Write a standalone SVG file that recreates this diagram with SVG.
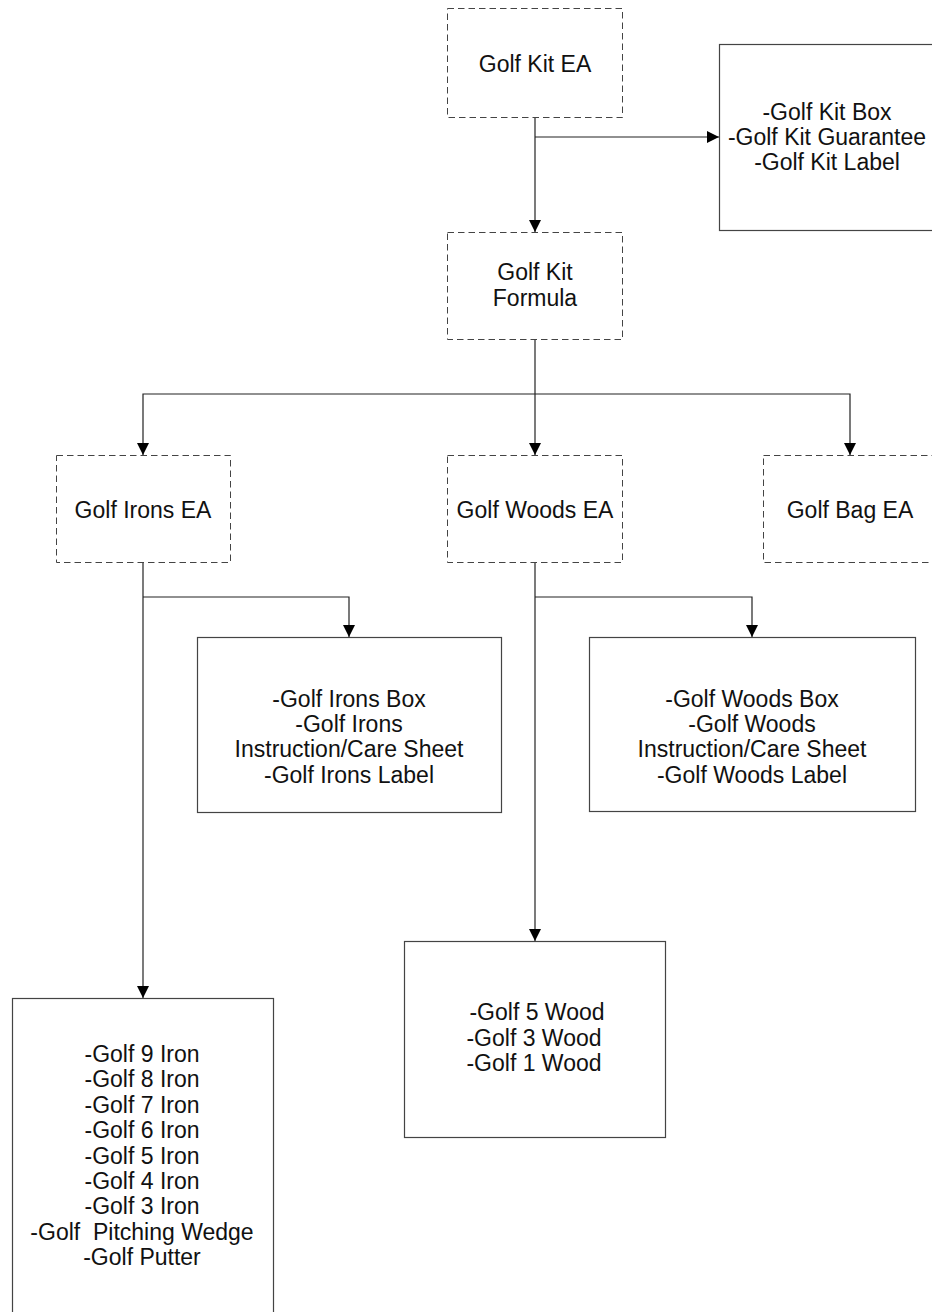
<svg xmlns="http://www.w3.org/2000/svg" width="932" height="1312" viewBox="0 0 932 1312">
  <defs>
    <marker id="arrow" viewBox="0 0 12 12" refX="12" refY="6" markerWidth="12" markerHeight="12" markerUnits="userSpaceOnUse" orient="auto">
      <path d="M0,0 L12,6 L0,12 Z" fill="#000"/>
    </marker>
    <style>
      .ea { fill: #fff; stroke: #444; stroke-width: 1; stroke-dasharray: 6.5 4; }
      .box { fill: #fff; stroke: #444; stroke-width: 1.2; }
      .lbl { font-family: "Liberation Sans", Arial, sans-serif; font-size: 23px; fill: #111; text-anchor: middle; }
      .wire { fill: none; stroke: #222; stroke-width: 1.2; }
      .tip { marker-end: url(#arrow); }
    </style>
  </defs>
  <rect width="932" height="1312" fill="#fff"/>

  <!-- connectors -->
  <g id="connectors">
    <path class="wire tip" d="M535,117 V232"/>
    <path class="wire tip" d="M535,137 H719"/>
    <path class="wire" d="M535,339 V394"/>
    <path class="wire tip" d="M535,394 V455"/>
    <path class="wire tip" d="M535,394 H143 V455"/>
    <path class="wire tip" d="M535,394 H850 V455"/>
    <path class="wire tip" d="M143,562 V998"/>
    <path class="wire tip" d="M143,597 H349 V637"/>
    <path class="wire tip" d="M535,562 V941"/>
    <path class="wire tip" d="M535,597 H752 V637"/>
  </g>

  <g id="golf-kit-ea">
    <rect class="ea" x="447.5" y="8.5" width="175" height="109"/>
    <text class="lbl" x="535" y="72">Golf Kit EA</text>
  </g>

  <g id="golf-kit-items">
    <rect class="box" x="719.5" y="44.5" width="220" height="186"/>
    <text class="lbl" x="827" y="120">-Golf Kit Box</text>
    <text class="lbl" x="827" y="145">-Golf Kit Guarantee</text>
    <text class="lbl" x="827" y="170">-Golf Kit Label</text>
  </g>

  <g id="golf-kit-formula">
    <rect class="ea" x="447.5" y="232.5" width="175" height="107"/>
    <text class="lbl" x="535" y="280">Golf Kit</text>
    <text class="lbl" x="535" y="306">Formula</text>
  </g>

  <g id="golf-irons-ea">
    <rect class="ea" x="56.5" y="455.5" width="174" height="107"/>
    <text class="lbl" x="143" y="518">Golf Irons EA</text>
  </g>

  <g id="golf-woods-ea">
    <rect class="ea" x="447.5" y="455.5" width="175" height="107"/>
    <text class="lbl" x="535" y="518">Golf Woods EA</text>
  </g>

  <g id="golf-bag-ea">
    <rect class="ea" x="763.5" y="455.5" width="176" height="107"/>
    <text class="lbl" x="850" y="518">Golf Bag EA</text>
  </g>

  <g id="golf-irons-items">
    <rect class="box" x="197.5" y="637.5" width="304" height="175"/>
    <text class="lbl" x="349" y="707">-Golf Irons Box</text>
    <text class="lbl" x="349" y="732">-Golf Irons</text>
    <text class="lbl" x="349" y="757">Instruction/Care Sheet</text>
    <text class="lbl" x="349" y="783">-Golf Irons Label</text>
  </g>

  <g id="golf-woods-items">
    <rect class="box" x="589.5" y="637.5" width="326" height="174"/>
    <text class="lbl" x="752" y="707">-Golf Woods Box</text>
    <text class="lbl" x="752" y="732">-Golf Woods</text>
    <text class="lbl" x="752" y="757">Instruction/Care Sheet</text>
    <text class="lbl" x="752" y="783">-Golf Woods Label</text>
  </g>

  <g id="golf-woods-set">
    <rect class="box" x="404.5" y="941.5" width="261" height="196"/>
    <text class="lbl" x="537" y="1020">-Golf 5 Wood</text>
    <text class="lbl" x="534" y="1046">-Golf 3 Wood</text>
    <text class="lbl" x="534" y="1071">-Golf 1 Wood</text>
  </g>

  <g id="golf-irons-set">
    <rect class="box" x="12.5" y="998.5" width="261" height="330"/>
    <text class="lbl" x="142" y="1062">-Golf 9 Iron</text>
    <text class="lbl" x="142" y="1087">-Golf 8 Iron</text>
    <text class="lbl" x="142" y="1113">-Golf 7 Iron</text>
    <text class="lbl" x="142" y="1138">-Golf 6 Iron</text>
    <text class="lbl" x="142" y="1164">-Golf 5 Iron</text>
    <text class="lbl" x="142" y="1189">-Golf 4 Iron</text>
    <text class="lbl" x="142" y="1214">-Golf 3 Iron</text>
    <text class="lbl" x="142" y="1240" style="white-space:pre" xml:space="preserve">-Golf  Pitching Wedge</text>
    <text class="lbl" x="142" y="1265">-Golf Putter</text>
  </g>
</svg>
